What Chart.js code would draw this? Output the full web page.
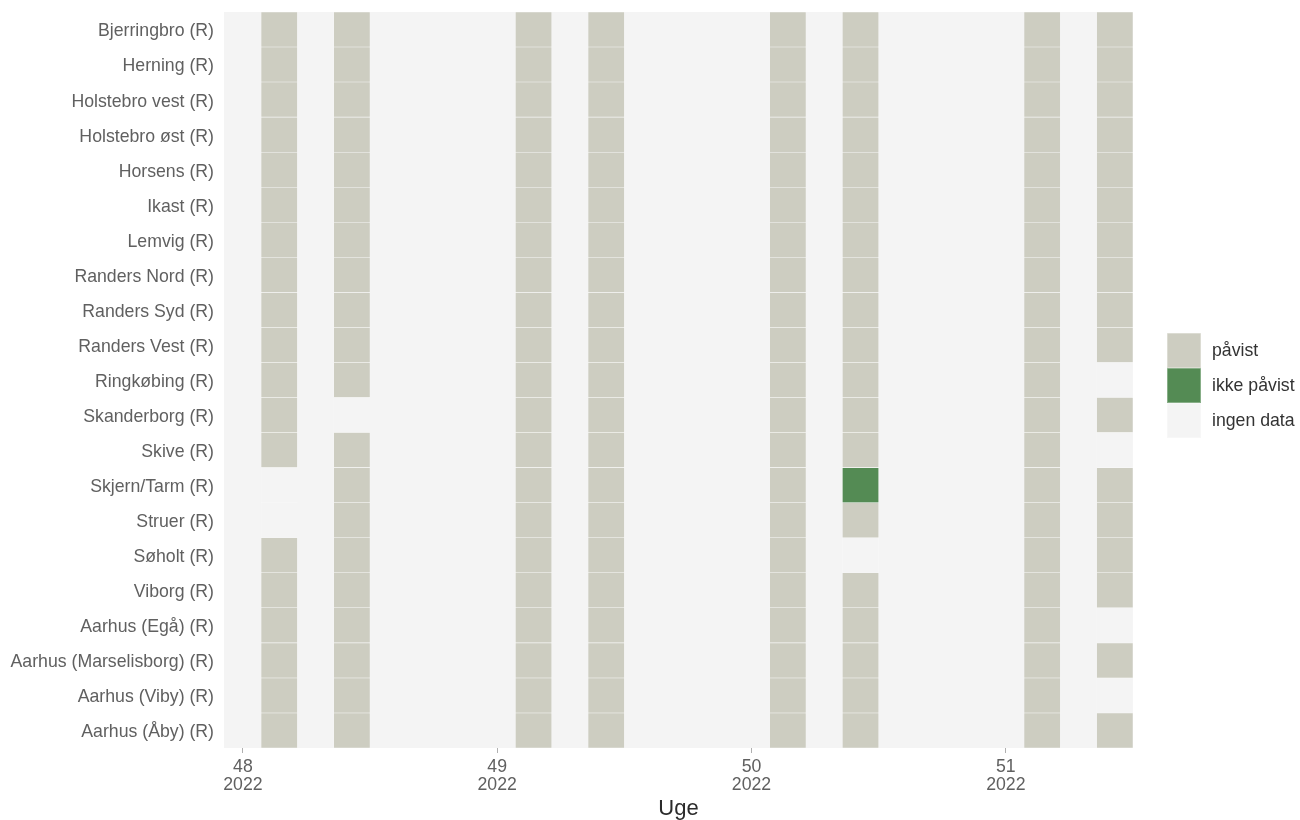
<!DOCTYPE html>
<html>
<head>
<meta charset="utf-8">
<title>Prøver pr. renseanlæg</title>
<script src="https://cdn.jsdelivr.net/npm/chart.js@4.4.1/dist/chart.umd.min.js"></script>
<style>
  html, body { margin: 0; padding: 0; background: #ffffff; }
  #wrap { width: 1300px; height: 820px; position: relative; }
</style>
</head>
<body>
<div id="wrap"><canvas id="chart"></canvas></div>
<script>
// Stations (rows, top to bottom)
const stations = [
  'Bjerringbro (R)', 'Herning (R)', 'Holstebro vest (R)', 'Holstebro øst (R)',
  'Horsens (R)', 'Ikast (R)', 'Lemvig (R)', 'Randers Nord (R)', 'Randers Syd (R)',
  'Randers Vest (R)', 'Ringkøbing (R)', 'Skanderborg (R)', 'Skive (R)',
  'Skjern/Tarm (R)', 'Struer (R)', 'Søholt (R)', 'Viborg (R)', 'Aarhus (Egå) (R)',
  'Aarhus (Marselisborg) (R)', 'Aarhus (Viby) (R)', 'Aarhus (Åby) (R)'
];

// Sample days, counted in days from monday of week 48 (28 Nov 2022)
const sampleDays = [1, 3, 8, 10, 15, 17, 22, 24];

// Status per sample day, one letter per station: p = påvist, i = ikke påvist, n = ingen data
const statusByDay = [
  'pppppppppppppnnpppppp', // 29 nov
  'pppppppppppnppppppppp', // 1 dec
  'ppppppppppppppppppppp', // 6 dec
  'ppppppppppppppppppppp', // 8 dec
  'ppppppppppppppppppppp', // 13 dec
  'pppppppppppppipnppppp', // 15 dec
  'ppppppppppppppppppppp', // 20 dec
  'ppppppppppnpnppppnpnp'  // 22 dec
];

// Legend / fill colours
const statusCodes = ['p', 'i', 'n'];
const statusNames = ['påvist', 'ikke påvist', 'ingen data'];
const statusColors = ['#CDCDC1', '#548B54', '#F4F4F4'];

// Week ticks
const weekTicks = [0, 7, 14, 21];
const weekLabels = [['48', '2022'], ['49', '2022'], ['50', '2022'], ['51', '2022']];

const FONT = '"Liberation Sans", Arial, sans-serif';
const colorOf = code => statusColors[statusCodes.indexOf(code)];

const datasets = sampleDays.map((day, k) => ({
  label: 'dag ' + day,
  data: stations.map(() => [day - 0.5, day + 0.5]),
  backgroundColor: statusByDay[k].split('').map(colorOf),
  borderColor: 'rgba(255,255,255,0.3)',
  borderWidth: 0.6,
  borderSkipped: false,
  barPercentage: 1,
  categoryPercentage: 1,
  grouped: false
}));

// Panel background
const panelBg = {
  id: 'panelBg',
  beforeDatasetsDraw(chart) {
    const { ctx, chartArea: a } = chart;
    ctx.save();
    ctx.fillStyle = '#F4F4F4';
    ctx.fillRect(a.left, a.top, a.right - a.left, a.bottom - a.top);
    ctx.restore();
  }
};

// Legend on the right
const sideLegend = {
  id: 'sideLegend',
  afterDraw(chart) {
    const { ctx } = chart;
    const x = 1167, y0 = 333, w = 34, h = 35;
    ctx.save();
    ctx.font = '17.7px ' + FONT;
    ctx.textBaseline = 'middle';
    statusNames.forEach((name, i) => {
      const y = y0 + i * h;
      ctx.fillStyle = statusColors[i];
      ctx.fillRect(x, y, w, h);
      ctx.strokeStyle = 'rgba(255,255,255,0.5)';
      ctx.lineWidth = 0.6;
      ctx.strokeRect(x + 0.3, y + 0.3, w - 0.6, h - 0.6);
      ctx.fillStyle = '#333333';
      ctx.fillText(name, 1212, y + h / 2 + 1);
    });
    ctx.restore();
  }
};

new Chart(document.getElementById('chart'), {
  type: 'bar',
  data: { labels: stations, datasets },
  plugins: [panelBg, sideLegend],
  options: {
    indexAxis: 'y',
    responsive: true,
    maintainAspectRatio: false,
    animation: false,
    layout: { padding: { top: 12, right: 167, left: 0, bottom: 0 } },
    plugins: {
      legend: { display: false },
      tooltip: { enabled: false }
    },
    scales: {
      x: {
        type: 'linear',
        min: -0.52,
        max: 24.5,
        afterFit: s => { s.height = 72; s.paddingLeft = 0; s.paddingRight = 0; },
        afterBuildTicks: s => { s.ticks = weekTicks.map(v => ({ value: v })); },
        border: { display: false },
        grid: {
          drawOnChartArea: false,
          drawTicks: true,
          tickLength: 5,
          color: '#b0b0b0',
          lineWidth: 1
        },
        ticks: {
          autoSkip: false,
          maxRotation: 0,
          padding: 5,
          color: '#606060',
          font: { family: FONT, size: 17.7, lineHeight: '18px' },
          callback: v => weekLabels[weekTicks.indexOf(v)]
        },
        title: {
          display: true,
          text: 'Uge',
          color: '#2b2b2b',
          padding: { top: 0, bottom: 0 },
          font: { family: FONT, size: 22, lineHeight: 1.05 }
        }
      },
      y: {
        type: 'category',
        afterFit: s => { s.width = 224; s.paddingTop = 0; s.paddingBottom = 0; },
        border: { display: false },
        grid: { display: false, drawTicks: false },
        ticks: {
          padding: 10,
          labelOffset: 2,
          color: '#606060',
          font: { family: FONT, size: 17.7 }
        }
      }
    }
  }
});
</script>
</body>
</html>
